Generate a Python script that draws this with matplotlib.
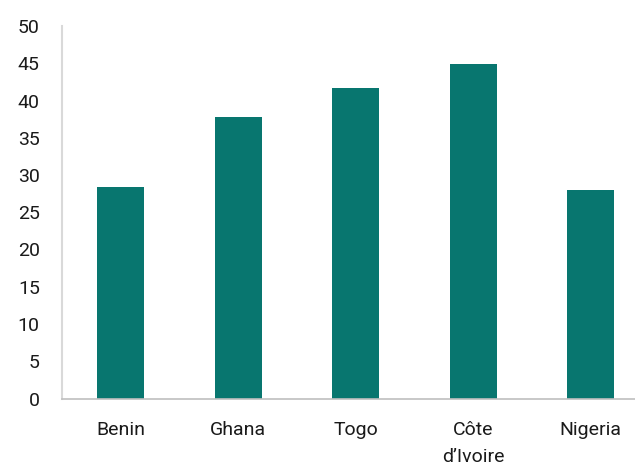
import matplotlib
matplotlib.use("Agg")
import matplotlib.pyplot as plt

categories = ["Benin", "Ghana", "Togo", "Côte\nd’Ivoire", "Nigeria"]
values = [28.4, 37.8, 41.7, 44.9, 28.0]
yticks = [0, 5, 10, 15, 20, 25, 30, 35, 40, 45, 50]

plt.rcParams['font.family'] = ['Roboto', 'DejaVu Sans']

fig = plt.figure(figsize=(6.35, 4.65), dpi=100)
ax = fig.add_axes([62/635, 1 - 398.5/465, 587.5/635, 372.5/465])
x = list(range(len(categories)))
ax.bar(x, values, width=0.4, color="#08766F")
ax.set_xlim(-0.5, len(categories) - 0.5)
ax.set_ylim(0, 50)
ax.set_yticks(yticks)
ax.set_xticks(x)
ax.set_xticklabels(categories, fontsize=14, color="#1a1a1a", va="top", linespacing=1.65)
ax.tick_params(axis='x', length=0, pad=16)
ax.tick_params(axis='y', length=0, pad=16, labelsize=14, labelcolor="#1a1a1a")
ax.spines['top'].set_visible(False)
ax.spines['right'].set_visible(False)
ax.spines['left'].set_color("#d9d9d9")
ax.spines['left'].set_linewidth(1.5)
ax.spines['bottom'].set_color("#bfbfbf")
ax.spines['bottom'].set_linewidth(1.2)
fig.savefig("out.png", dpi=100)
